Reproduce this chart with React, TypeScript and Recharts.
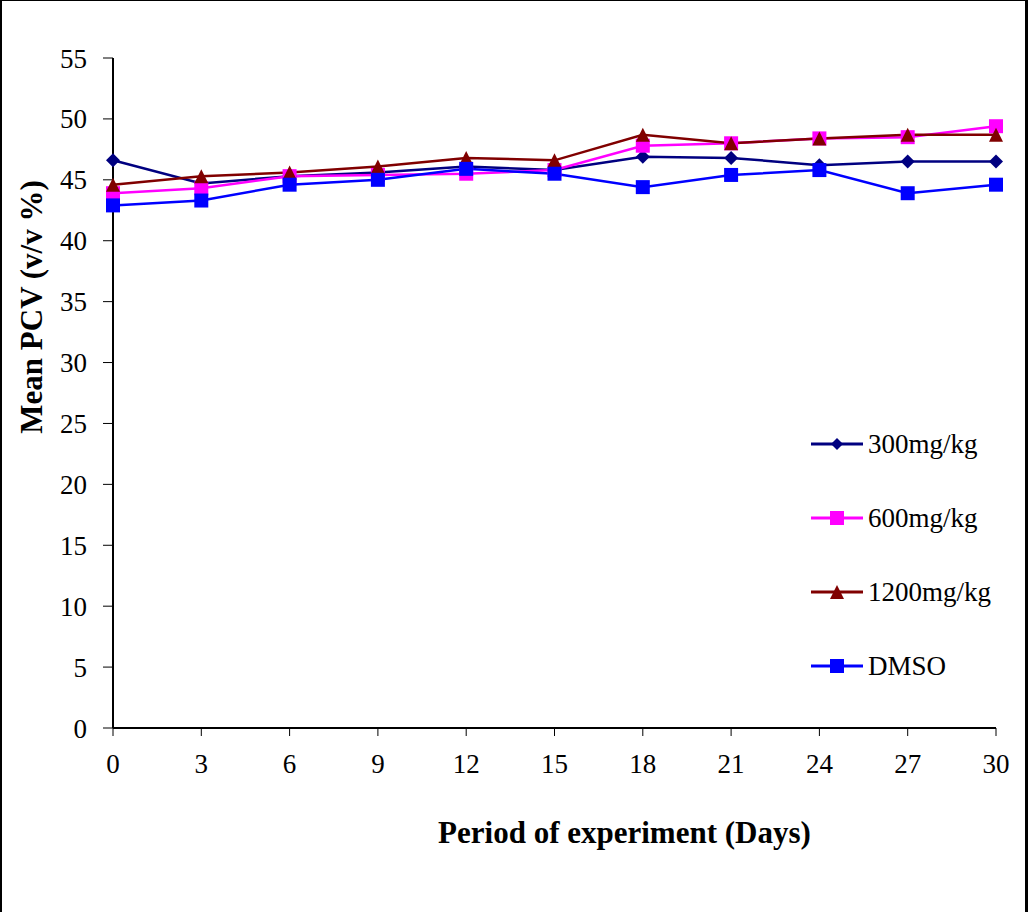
import React from "react";
import { LineChart, Line, XAxis, YAxis, Legend, Label } from "recharts";

const days = [0, 3, 6, 9, 12, 15, 18, 21, 24, 27, 30];
const dose300 = [46.6, 44.7, 45.3, 45.6, 46.1, 45.8, 46.9, 46.8, 46.2, 46.5, 46.5];
const dose600 = [43.9, 44.3, 45.3, 45.4, 45.5, 45.8, 47.8, 48.0, 48.4, 48.5, 49.4];
const dose1200 = [44.6, 45.3, 45.6, 46.1, 46.8, 46.6, 48.7, 48.0, 48.4, 48.7, 48.7];
const dmso = [42.9, 43.3, 44.6, 45.0, 45.9, 45.5, 44.4, 45.4, 45.8, 43.9, 44.6];
const yTicks = [0, 5, 10, 15, 20, 25, 30, 35, 40, 45, 50, 55];

const data = days.map((d, i) => ({
  day: d,
  d300: dose300[i],
  d600: dose600[i],
  d1200: dose1200[i],
  dmso: dmso[i],
}));

const FONT = "'Liberation Serif', 'Times New Roman', serif";

type Shape = "diamond" | "square" | "triangle";

function markerPath(shape: Shape, cx: number, cy: number, s: number) {
  const h = s / 2;
  if (shape === "diamond") return `M${cx},${cy - h}L${cx + h},${cy}L${cx},${cy + h}L${cx - h},${cy}Z`;
  if (shape === "triangle") return `M${cx},${cy - h}L${cx + h},${cy + h}L${cx - h},${cy + h}Z`;
  return `M${cx - h},${cy - h}h${s}v${s}h${-s}Z`;
}

const makeDot = (shape: Shape, color: string, size: number) => (props: any) => {
  const { cx, cy, index } = props;
  if (cx == null || cy == null) return <g key={`e-${index}`} />;
  return <path key={`m-${shape}-${index}`} d={markerPath(shape, cx, cy, size)} fill={color} stroke="none" />;
};

const series = [
  { key: "d300", name: "300mg/kg", color: "#000080", shape: "diamond" as Shape },
  { key: "d600", name: "600mg/kg", color: "#FF00FF", shape: "square" as Shape },
  { key: "d1200", name: "1200mg/kg", color: "#800000", shape: "triangle" as Shape },
  { key: "dmso", name: "DMSO", color: "#0000FF", shape: "square" as Shape },
];

function LegendBox() {
  return (
    <div style={{ fontFamily: FONT, fontSize: 27, color: "#000" }}>
      {series.map((s) => (
        <div key={s.key} style={{ height: 74, display: "flex", alignItems: "center" }}>
          <svg width={52} height={20} style={{ display: "block" }}>
            <line x1={0} y1={10} x2={52} y2={10} stroke={s.color} strokeWidth={3} />
            <path d={markerPath(s.shape, 26, 10, s.shape === "diamond" ? 12 : 14)} fill={s.color} />
          </svg>
          <span style={{ marginLeft: 5, lineHeight: 1 }}>{s.name}</span>
        </div>
      ))}
    </div>
  );
}

export default function App() {
  return (
    <div style={{ position: "absolute", left: 0, top: 0, width: 1028, height: 912, background: "#fff" }}>
      <LineChart
        width={1028}
        height={912}
        data={data}
        margin={{ top: 58, right: 32, left: 0, bottom: 144 }}
      >
        <XAxis
          dataKey="day"
          type="number"
          domain={[0, 30]}
          ticks={days}
          height={40}
          axisLine={{ stroke: "#000", strokeWidth: 2 }}
          tickLine={{ stroke: "#000", strokeWidth: 1 }}
          tickSize={8}
          tickMargin={18}
          tick={{ fill: "#000", fontSize: 27, fontFamily: FONT }}
        >
          <Label
            content={(p: any) => {
              const vb = p.viewBox;
              return (
                <text
                  x={vb.x + vb.width / 2 + 70}
                  y={vb.y + 115}
                  textAnchor="middle"
                  fontFamily={FONT}
                  fontSize={31}
                  fontWeight="bold"
                  fill="#000"
                >
                  Period of experiment (Days)
                </text>
              );
            }}
          />
        </XAxis>
        <YAxis
          type="number"
          domain={[0, 55]}
          ticks={yTicks}
          width={113}
          axisLine={{ stroke: "#000", strokeWidth: 2 }}
          tickLine={{ stroke: "#000", strokeWidth: 1 }}
          tickSize={10}
          tickMargin={16}
          tick={{ fill: "#000", fontSize: 27, fontFamily: FONT }}
        >
          <Label
            content={() => (
              <text
                x={42}
                y={307}
                transform="rotate(-90, 42, 307)"
                textAnchor="middle"
                fontFamily={FONT}
                fontSize={31}
                fontWeight="bold"
                fill="#000"
              >
                Mean PCV (v/v %)
              </text>
            )}
          />
        </YAxis>
        <Legend
          layout="vertical"
          align="center"
          verticalAlign="middle"
          content={() => <LegendBox />}
          wrapperStyle={{ left: 811, top: 407, width: 215, height: 300 }}
        />
        {series.map((s) => (
          <Line
            key={s.key}
            dataKey={s.key}
            name={s.name}
            stroke={s.color}
            strokeWidth={2.5}
            type="linear"
            dot={makeDot(s.shape, s.color, 14)}
            activeDot={false}
            isAnimationActive={false}
          />
        ))}
      </LineChart>
      <div
        style={{
          position: "absolute",
          inset: 0,
          borderStyle: "solid",
          borderColor: "#000",
          borderWidth: "1px 3px 0 2px",
          pointerEvents: "none",
        }}
      />
    </div>
  );
}
